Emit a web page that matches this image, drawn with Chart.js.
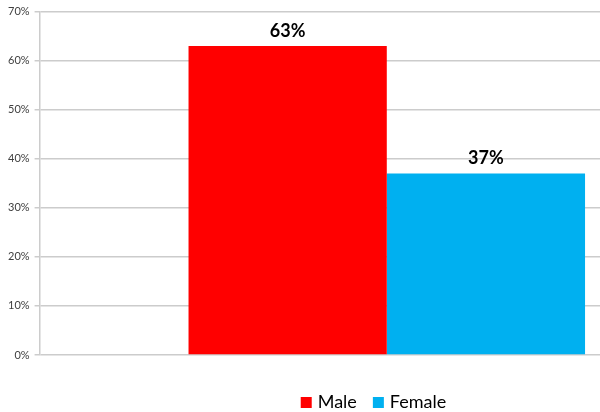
<!DOCTYPE html>
<html>
<head>
<meta charset="utf-8">
<script src="https://cdn.jsdelivr.net/npm/chart.js@4/dist/chart.umd.min.js"></script>
<style>
  html, body { margin: 0; padding: 0; background: #fff; overflow: hidden; }
  #wrap { width: 600px; height: 412px; overflow: hidden; }
</style>
</head>
<body>
<div id="wrap"><canvas id="grafico" width="747" height="412"></canvas></div>
<script>
// one category, two series (the original chart is cropped on the right)
const categorias = [""];
const series = ["Male", "Female"];
const valoresMale = [63];
const valoresFemale = [37];
const cores = ["#ff0000", "#00b0f0"];
const ticksY = [0, 10, 20, 30, 40, 50, 60, 70];

const fonte = "Lato, 'Open Sans', sans-serif";

// data labels above bars
const rotulos = {
  id: "rotulos",
  afterDatasetsDraw(chart) {
    const c = chart.ctx;
    c.save();
    c.font = "bold 18px " + fonte;
    c.fillStyle = "#000";
    c.textAlign = "center";
    c.textBaseline = "alphabetic";
    chart.data.datasets.forEach((ds, i) => {
      chart.getDatasetMeta(i).data.forEach((bar, j) => {
        c.fillText(ds.data[j] + "%", bar.x, bar.y - 9);
      });
    });
    c.restore();
  },
};

// legend drawn by hand so it sits where the original one does
const legenda = {
  id: "legenda",
  afterDraw(chart) {
    const c = chart.ctx;
    const box = 11, gapTexto = 6, gapItem = 16, base = 408;
    c.save();
    c.font = "18px " + fonte;
    c.textBaseline = "alphabetic";
    const itens = chart.data.datasets.map((ds) => ({
      nome: ds.label,
      cor: ds.backgroundColor,
      w: c.measureText(ds.label).width,
    }));
    let total = 0;
    itens.forEach((it, i) => {
      total += box + gapTexto + it.w + (i ? gapItem : 0);
    });
    let x = chart.width / 2 - total / 2;
    itens.forEach((it) => {
      c.fillStyle = it.cor;
      c.fillRect(x, base - 11, box, box);
      x += box + gapTexto;
      c.fillStyle = "#000";
      c.fillText(it.nome, x, base);
      x += it.w + gapItem;
    });
    c.restore();
  },
};

const ctx = document.getElementById("grafico").getContext("2d");

new Chart(ctx, {
  type: "bar",
  data: {
    labels: categorias,
    datasets: [
      { label: series[0], data: valoresMale, backgroundColor: cores[0] },
      { label: series[1], data: valoresFemale, backgroundColor: cores[1] },
    ],
  },
  options: {
    responsive: false,
    animation: false,
    categoryPercentage: 0.571,
    barPercentage: 1,
    layout: { padding: { left: 3, right: 13, top: -3, bottom: 49 } },
    plugins: {
      legend: { display: false },
      tooltip: { enabled: false },
    },
    scales: {
      x: {
        grid: { display: false },
        border: { display: false },
        ticks: { display: false },
      },
      y: {
        min: 0,
        max: 70,
        afterBuildTicks: (scale) => {
          scale.ticks = ticksY.map((v) => ({ value: v }));
        },
        grid: { color: "#cccccc", lineWidth: 1.5, tickLength: 5 },
        border: { color: "#cccccc", width: 1.5 },
        ticks: {
          font: { family: fonte, size: 11 },
          color: "#404040",
          padding: 5,
          callback: (v) => v + "%",
        },
      },
    },
  },
  plugins: [rotulos, legenda],
});
</script>
</body>
</html>
